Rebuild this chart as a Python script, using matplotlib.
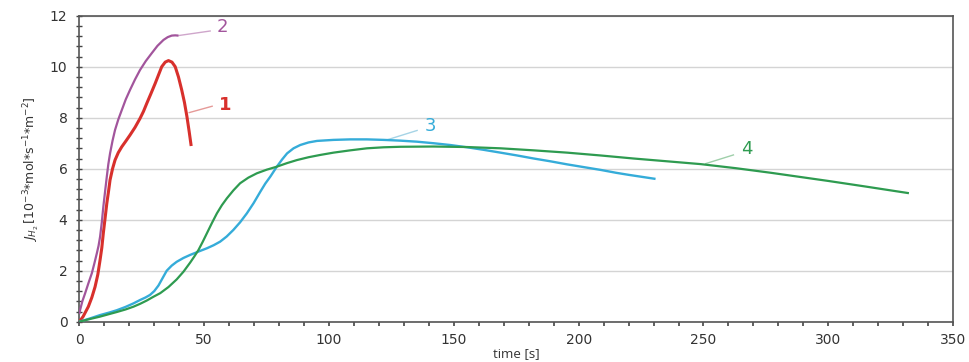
import matplotlib
matplotlib.use("Agg")
import matplotlib.pyplot as plt
from matplotlib.ticker import MultipleLocator

# Curve 1 (red)
t1 = [0, 1.5, 3.6, 5, 6.3, 7.4, 8.3, 9.0, 9.6, 10.3, 11, 11.7, 12.3, 13.3, 14.3, 15.6, 17, 18.6, 20.3, 22.3,
      24.3, 25.7, 27, 28.7, 30.4, 31.8, 33, 34.4, 35.7, 37.1, 38.4, 39.7, 41, 42.1, 43.1, 44, 44.8]
j1 = [0.0, 0.2, 0.59, 0.95, 1.37, 1.85, 2.42, 2.9, 3.47, 4.05, 4.64, 5.12, 5.56, 6.0, 6.34, 6.63, 6.86, 7.08, 7.32, 7.62,
      7.97, 8.25, 8.56, 8.95, 9.35, 9.7, 10.0, 10.18, 10.24, 10.18, 10.0, 9.6, 9.09, 8.6, 8.04, 7.45, 6.89]
# Curve 2 (purple)
t2 = [0, 0.3, 1.2, 2.3, 3.6, 5.0, 6.0, 7.0, 7.7, 8.3, 9.0, 9.6, 10.3, 11.0, 11.6, 12.3, 13.3, 14.3, 15.6, 17,
      18.6, 20.3, 22.3, 24.3, 26.6, 29, 31.3, 33.7, 35.4, 37, 38.4, 39.7]
j2 = [0.3, 0.46, 0.8, 1.11, 1.5, 1.9, 2.28, 2.68, 2.98, 3.33, 3.9, 4.5, 5.1, 5.69, 6.17, 6.6, 7.1, 7.52, 7.93, 8.3,
      8.72, 9.09, 9.5, 9.87, 10.22, 10.53, 10.82, 11.05, 11.16, 11.22, 11.23, 11.22]
# Curve 3 (blue)
t3 = [0, 4, 8.3, 12, 15, 18.5, 21.7, 24.3, 26.5, 28.3, 30, 31.7, 33.4, 35, 37, 39, 41.7, 44.4, 47.7, 51.1,
      53.8, 56.4, 59, 61.7, 64.4, 67.1, 69.8, 72.5, 74.5, 76.5, 79.1, 81.2, 83.2, 85.8, 88.5, 91.8, 95.2,
      101.8, 108.5, 115.2, 121.9, 128.6, 135.2, 141.8, 148.5, 155.3, 162, 168.7, 175.3, 182, 188.7,
      195.4, 202.2, 209, 215, 220, 225.4, 230.8]
j3 = [0, 0.12, 0.26, 0.36, 0.45, 0.58, 0.72, 0.85, 0.95, 1.05, 1.2, 1.42, 1.72, 2.0, 2.2, 2.35, 2.5, 2.62, 2.75, 2.88,
      3.0, 3.14, 3.34, 3.6, 3.9, 4.25, 4.65, 5.1, 5.42, 5.69, 6.08, 6.36, 6.6, 6.8, 6.93, 7.03, 7.09,
      7.13, 7.15, 7.15, 7.13, 7.1, 7.06, 7.0, 6.93, 6.84, 6.74, 6.63, 6.52, 6.4, 6.29,
      6.17, 6.06, 5.95, 5.84, 5.76, 5.68, 5.6]
# Curve 4 (green)
t4 = [0, 4, 8.3, 12, 15, 18.5, 21.7, 24.3, 27, 29.7, 32.4, 35.7, 39, 41.7, 44.4, 46, 47.7, 49.4, 51.1, 53.1,
      55.1, 57.1, 59.1, 61.7, 64.4, 67.7, 71.1, 75, 79.1, 83.2, 87.2, 91.8, 96.5, 101.8, 108.5, 115.2,
      121.9, 128.6, 141.8, 155.3, 168.7, 182, 195.4, 208.7, 222, 235.5, 248.9, 263, 277, 288.5, 300,
      315, 332.3]
j4 = [0, 0.1, 0.2, 0.3, 0.38, 0.48, 0.59, 0.7, 0.83, 0.98, 1.12, 1.36, 1.66, 1.96, 2.32, 2.55, 2.81, 3.13, 3.47, 3.87,
      4.25, 4.57, 4.84, 5.15, 5.43, 5.65, 5.82, 5.96, 6.08, 6.22, 6.34, 6.45, 6.54, 6.63, 6.72, 6.8,
      6.84, 6.86, 6.87, 6.85, 6.8, 6.72, 6.63, 6.52, 6.4, 6.29, 6.18, 6.02, 5.84, 5.68, 5.52,
      5.3, 5.04]

labels = ["1", "2", "3", "4"]
label_xy = [(58.4, 8.5), (57.2, 11.55), (140.7, 7.67), (267.3, 6.77)]
leader_from = [(44.0, 8.2), (39.6, 11.22), (123.2, 7.13), (250.9, 6.2)]
leader_to = [(53.2, 8.45), (52.4, 11.4), (135.3, 7.5), (262.0, 6.54)]

colors = ["#d8302c", "#a2559c", "#35acd9", "#2e9b50"]
leader_colors = ["#e59a98", "#cfa6cb", "#a6d4e6", "#9fcfaa"]
widths = [2.2, 1.6, 1.7, 1.6]

fig = plt.figure(figsize=(9.7, 3.62), dpi=100)
ax = fig.add_axes([0.0818, 0.1113, 0.9008, 0.8453])

for t, j, c, w in zip([t1, t2, t3, t4], [j1, j2, j3, j4], colors, widths):
    ax.plot(t, j, color=c, lw=w, solid_joinstyle="round", solid_capstyle="butt", zorder=3)

for lab, xy, a, b, c, lc in zip(labels, label_xy, leader_from, leader_to, colors, leader_colors):
    ax.plot([a[0], b[0]], [a[1], b[1]], color=lc, lw=1.0, zorder=2)
    ax.text(xy[0], xy[1], lab, color=c, fontsize=13, ha="center", va="center",
            fontweight="bold" if lab == "1" else "normal")

ax.set_xlim(0, 350)
ax.set_ylim(0, 12)
ax.xaxis.set_major_locator(MultipleLocator(50))
ax.xaxis.set_minor_locator(MultipleLocator(10))
ax.yaxis.set_major_locator(MultipleLocator(2))
ax.yaxis.set_minor_locator(MultipleLocator(0.4))
ax.grid(axis="y", which="major", color="#d4d4d4", lw=1.0)
ax.set_axisbelow(True)

for s in ["left", "bottom", "top", "right"]:
    ax.spines[s].set_color("#555555")
    ax.spines[s].set_linewidth(1.2)

ax.tick_params(axis="x", which="both", direction="out", length=3, width=1.2, color="#444444",
               labelsize=10, labelcolor="#333333", pad=5)
ax.tick_params(axis="y", which="both", direction="inout", length=5, width=1.0, color="#444444",
               labelsize=10, labelcolor="#333333", pad=6)
ax.tick_params(axis="y", which="minor", length=4)

ax.set_xlabel("time [s]", fontsize=9.5, color="#333333", labelpad=0, family="Open Sans")
ax.set_ylabel(r"$J_{H_2}\,[10^{-3}$*mol*s$^{-1}$*m$^{-2}]$", fontsize=9, color="#333333", labelpad=6)

fig.savefig("out.png", dpi=100, facecolor="white")
